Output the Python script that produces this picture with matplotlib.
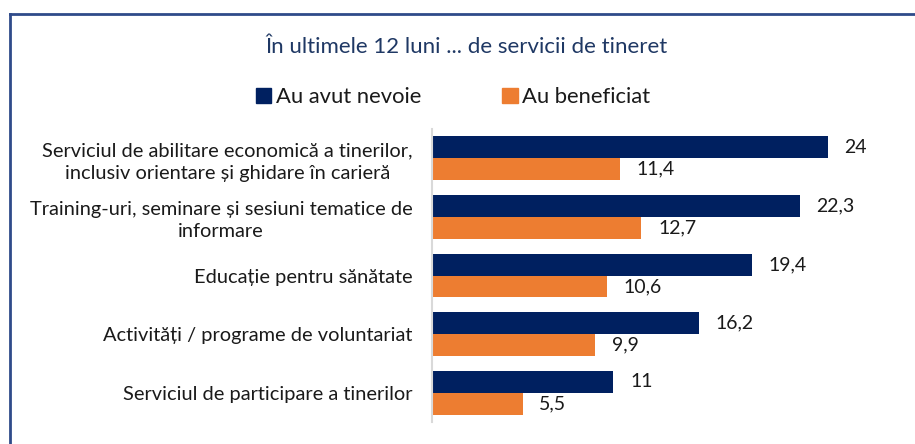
import matplotlib
matplotlib.use("Agg")
import matplotlib.pyplot as plt
from matplotlib.lines import Line2D
from matplotlib.patches import Patch

plt.rcParams["font.family"] = ["Lato", "DejaVu Sans"]

categories = [
    "Serviciul de abilitare economică a tinerilor,\ninclusiv orientare și ghidare în carieră",
    "Training-uri, seminare și sesiuni tematice de\ninformare",
    "Educație pentru sănătate",
    "Activități / programe de voluntariat",
    "Serviciul de participare a tinerilor",
]
needed = [24, 22.3, 19.4, 16.2, 11]
received = [11.4, 12.7, 10.6, 9.9, 5.5]
series_names = ["Au avut nevoie", "Au beneficiat"]
title = "În ultimele 12 luni ... de servicii de tineret"

NAVY = "#002060"
ORANGE = "#ED7D31"
TEXT = "#1a1a1a"


def fmt(v):
    return f"{v:g}".replace(".", ",")


fig = plt.figure(figsize=(9.15, 4.44), dpi=100)
W, H = 915, 444
# axes placed in pixel terms: left 432, top 129, bottom 422
ax = fig.add_axes([432 / W, 1 - 422 / H, 460 / W, (422 - 129) / H])

h = 0.375
ys = list(range(len(categories)))
ax.barh([y - h / 2 for y in ys], needed, height=h, color=NAVY)
ax.barh([y + h / 2 for y in ys], received, height=h, color=ORANGE)

for y, v in zip(ys, needed):
    ax.annotate(fmt(v), (v, y - h / 2), xytext=(12, 0), textcoords="offset points",
                va="center", ha="left", fontsize=14, color=TEXT)
for y, v in zip(ys, received):
    ax.annotate(fmt(v), (v, y + h / 2), xytext=(12, 0), textcoords="offset points",
                va="center", ha="left", fontsize=14, color=TEXT)

ax.set_xlim(0, 460 / 16.49)
ax.set_ylim(len(categories) - 0.5, -0.5)
ax.set_yticks(ys)
ax.set_yticklabels(categories, fontsize=14.4, color=TEXT,
                   multialignment="center", linespacing=1.35)
ax.tick_params(axis="y", length=0, pad=14)
ax.set_xticks([])
for s in ["top", "right", "bottom"]:
    ax.spines[s].set_visible(False)
ax.spines["left"].set_color("#d9d9d9")
ax.spines["left"].set_linewidth(1.5)

fig.text(467 / W, 1 - 47 / H, title, ha="center", va="center",
         fontsize=16, color="#1F3864")

handles = [Patch(color=NAVY), Patch(color=ORANGE)]
fig.legend(handles, series_names, loc="center", bbox_to_anchor=(453 / W, 1 - 97 / H),
           ncol=2, frameon=False, fontsize=15.8, handlelength=0.7, handleheight=0.7,
           handletextpad=0.2, columnspacing=3.7, labelcolor=TEXT)

# frame lines (only top and left fall inside the picture)
border = "#2F4B8A"
fig.add_artist(Line2D([10 / W, 1], [1 - 14 / H, 1 - 14 / H], color=border, lw=2))
fig.add_artist(Line2D([10 / W, 10 / W], [0, 1 - 14 / H], color=border, lw=2))

fig.savefig("out.png", dpi=100)
